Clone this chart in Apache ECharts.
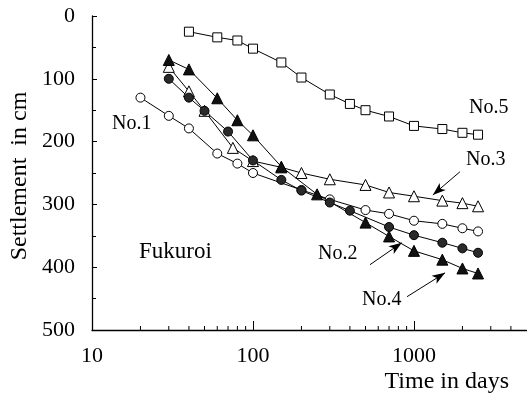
<!DOCTYPE html>
<html>
<head>
<meta charset="utf-8">
<script src="https://cdn.jsdelivr.net/npm/echarts@6/dist/echarts.min.js"></script>
<style>
  html, body { margin: 0; padding: 0; background: #fff; }
  #chart { width: 527px; height: 406px; }
</style>
</head>
<body>
<div id="chart"></div>
<script>
// Settlement records at Fukuroi, five gauges (No.1 - No.5)
const days1 = [20, 30, 40, 60, 80, 100, 200, 300, 500, 700, 1000, 1500, 2000, 2500];
const no1   = [130, 159, 179, 219, 235, 250, 277, 292, 309, 315, 326, 331, 338, 343];

const days2 = [30, 40, 50, 70, 100, 150, 200, 300, 400, 700, 1000, 1500, 2000, 2500];
const no2   = [100, 130, 151, 184, 230, 261, 278, 297, 310, 336, 349, 361, 370, 377];

const days3 = [30, 40, 50, 75, 100, 150, 200, 300, 500, 700, 1000, 1500, 2000, 2500];
const no3   = [81, 120, 151, 210, 231, 241, 250, 260, 269, 281, 287, 294, 298, 303];

const days4 = [30, 40, 60, 80, 100, 150, 250, 500, 700, 1000, 1500, 2000, 2500];
const no4   = [70, 85, 131, 166, 190, 240, 284, 329, 351, 374, 388, 402, 410];

const days5 = [40, 60, 80, 100, 150, 200, 300, 400, 500, 700, 1000, 1500, 2000, 2500];
const no5   = [25, 34, 39, 52, 74, 98, 125, 140, 150, 160, 175, 180, 186, 189];

const xTickLabels = [10, 100, 1000];
const xMinorTicks = [20, 30, 40, 50, 60, 70, 80, 90, 200, 300, 400, 500, 600, 700, 800, 900, 2000, 3000, 4000];

// Leader arrows [from, to] in (days, cm)
const arrow3 = [[1930, 248], [1310, 285]];
const arrow2 = [[533, 396], [840, 361]];
const arrow4 = [[905, 447], [1560, 409]];

const FONT = '"Liberation Serif", "Times New Roman", serif';

function pairs(xs, ys) { return xs.map((x, i) => [x, ys[i]]); }

function lineSeries(name, xs, ys, symbol, fill, size) {
  return {
    name: name,
    type: 'line',
    data: pairs(xs, ys),
    symbol: symbol,
    symbolSize: size,
    showAllSymbol: true,
    lineStyle: { color: '#000', width: 1 },
    itemStyle: { color: fill, borderColor: '#000', borderWidth: 1 },
    z: 3
  };
}

function arrowLine(a) {
  return {
    silent: true,
    symbol: ['none', 'arrow'],
    symbolSize: [7, 13],
    label: { show: false },
    lineStyle: { color: '#000', width: 1, type: 'solid' },
    data: [[{ coord: a[0] }, { coord: a[1] }]]
  };
}

const chart = echarts.init(document.getElementById('chart'), null, { renderer: 'canvas' });

const s1 = lineSeries('No.1', days1, no1, 'circle', '#fff', 9);
const s2 = lineSeries('No.2', days2, no2, 'circle', '#2a2a2a', 9);
const s3 = lineSeries('No.3', days3, no3, 'triangle', '#fff', 11);
const s4 = lineSeries('No.4', days4, no4, 'triangle', '#111', 11);
const s5 = lineSeries('No.5', days5, no5, 'rect', '#fff', 9);
s3.markLine = arrowLine(arrow3);
s2.markLine = arrowLine(arrow2);
s4.markLine = arrowLine(arrow4);

chart.setOption({
  animation: false,
  backgroundColor: '#fff',
  grid: { left: 92, right: 0.5, top: 16, bottom: 76, containLabel: false, outerBoundsMode: 'none' },
  xAxis: {
    type: 'log',
    logBase: 10,
    min: 10,
    max: 5000,
    position: 'bottom',
    axisLine: { onZero: false, lineStyle: { color: '#000', width: 1.3 } },
    axisTick: { inside: true, length: 9, customValues: xTickLabels, lineStyle: { color: '#000', width: 1 } },
    axisLabel: {
      customValues: xTickLabels,
      margin: 15,
      color: '#000',
      fontFamily: FONT,
      fontSize: 22,
      formatter: v => (xTickLabels.indexOf(Math.round(v)) >= 0 ? String(Math.round(v)) : '')
    },
    splitLine: { show: false }
  },
  yAxis: {
    type: 'value',
    inverse: true,
    min: 0,
    max: 500,
    interval: 100,
    axisLine: { show: true, onZero: false, lineStyle: { color: '#000', width: 1.3 } },
    axisTick: { show: true, inside: true, length: 5, lineStyle: { color: '#000', width: 1 } },
    minorTick: { show: true, splitNumber: 2, length: 4, lineStyle: { color: '#000', width: 1 } },
    axisLabel: { margin: 17, color: '#000', fontFamily: FONT, fontSize: 22 },
    splitLine: { show: false },
    minorSplitLine: { show: false }
  },
  series: [
    {
      type: 'custom',
      name: 'minor ticks',
      silent: true,
      data: xMinorTicks.map(v => [v, 500]),
      encode: { x: 0, y: 1 },
      renderItem: function (params, api) {
        const p = api.coord([api.value(0), api.value(1)]);
        return {
          type: 'line',
          shape: { x1: p[0], y1: p[1], x2: p[0], y2: p[1] - 4 },
          style: { stroke: '#000', lineWidth: 1 }
        };
      },
      z: 2
    },
    s5, s3, s1, s2, s4
  ],
  graphic: [
    { type: 'text', left: 112, top: 114, style: { text: 'No.1', font: '20px ' + FONT, fill: '#000' } },
    { type: 'text', left: 469, top: 98, style: { text: 'No.5', font: '20px ' + FONT, fill: '#000' } },
    { type: 'text', left: 466, top: 150, style: { text: 'No.3', font: '20px ' + FONT, fill: '#000' } },
    { type: 'text', left: 318, top: 244, style: { text: 'No.2', font: '20px ' + FONT, fill: '#000' } },
    { type: 'text', left: 362, top: 290, style: { text: 'No.4', font: '20px ' + FONT, fill: '#000' } },
    { type: 'text', left: 139, top: 240, style: { text: 'Fukuroi', font: '23px ' + FONT, fill: '#000' } },
    { type: 'text', right: 18, top: 370, style: { text: 'Time in days', font: '24px ' + FONT, fill: '#000' } },
    {
      type: 'text', x: 20, y: 176, rotation: Math.PI / 2,
      style: { text: 'Settlement  in cm', font: '24px ' + FONT, fill: '#000', align: 'center', verticalAlign: 'middle' }
    }
  ]
});
</script>
</body>
</html>
